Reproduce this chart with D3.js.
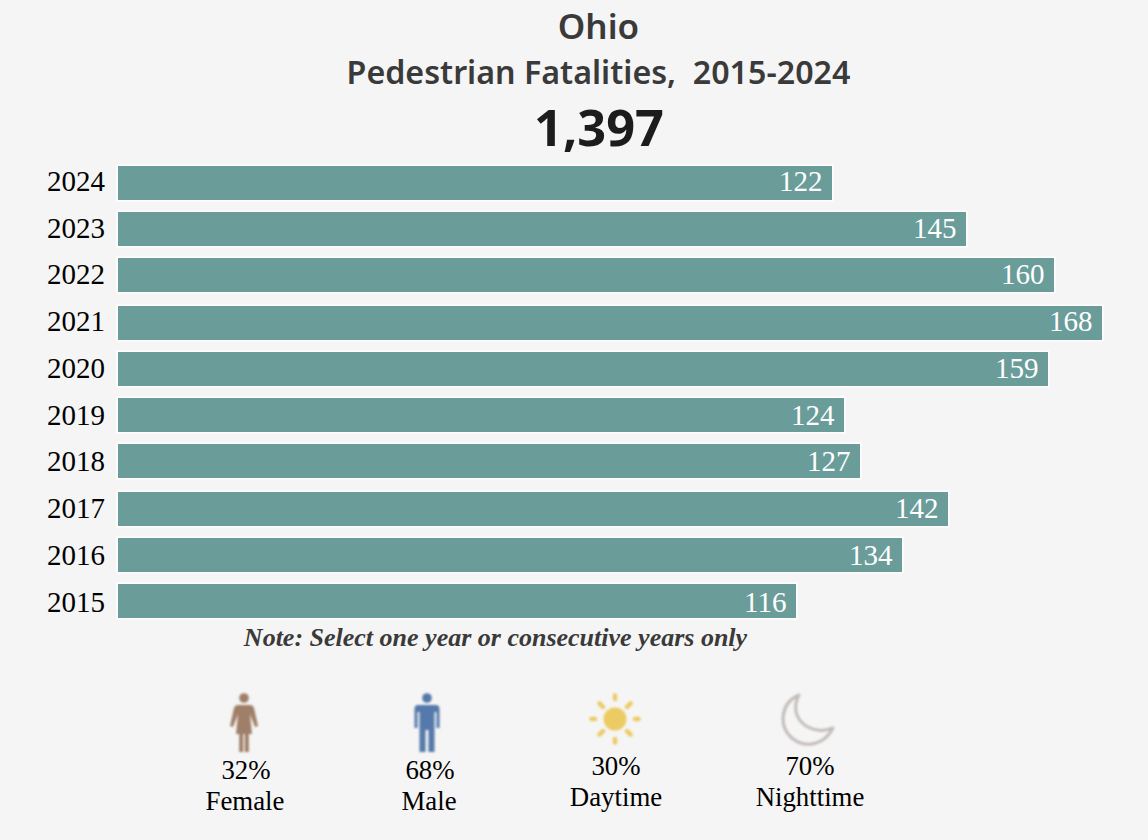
<!DOCTYPE html>
<html><head><meta charset="utf-8">
<script src="https://cdn.jsdelivr.net/npm/d3@7"></script>
<style>html,body{margin:0;padding:0;background:#f5f5f5}svg{display:block}</style>
</head><body><div id="chart"></div>
<script>
const years=[2024,2023,2022,2021,2020,2019,2018,2017,2016,2015];
const fatalities=[122,145,160,168,159,124,127,142,134,116];
const titleText="Ohio";
const subtitleText="Pedestrian Fatalities,  2015-2024";
const totalText="1,397";
const noteText="Note: Select one year or consecutive years only";
const iconPercents=["32%","68%","30%","70%"];
const iconLabels=["Female","Male","Daytime","Nighttime"];

const W=1148,H=840,serif='"Liberation Serif","Times New Roman",serif',sans='"Noto Sans","Open Sans",sans-serif';
const svg=d3.select("#chart").append("svg").attr("width",W).attr("height",H);
svg.append("rect").attr("width",W).attr("height",H).attr("fill","#f5f5f5");

const x=d3.scaleLinear().domain([0,168]).range([118,1102]);
const y=d3.scaleBand().domain(years).range([166,618]).paddingInner(0.268).paddingOuter(0);
const yLabel=d3.scalePoint().domain(years).range([191,611.7]);
const snapY=v=>Math.round(v/2)*2, snapX=v=>Math.floor(v/2)*2;
const sw=1.5;

function t(s,px,py,size,o={}){return svg.append("text").attr("x",px).attr("y",py).attr("text-anchor",o.anchor||"middle")
 .attr("font-family",o.font||serif).attr("font-size",size).attr("font-weight",o.weight||400).attr("font-style",o.style||"normal")
 .attr("fill",o.fill||"#000").style("white-space","pre").text(s);}

t(titleText,598.5,39,35,{font:sans,weight:600,fill:"#3a3a3a"});
t(subtitleText,598.5,84,32.2,{font:sans,weight:600,fill:"#3a3a3a"});
t(totalText,599,145.5,50.5,{font:sans,weight:700,fill:"#1c1c1c"});

svg.append("g").selectAll("rect").data(years).join("rect")
 .attr("x",x(0)-sw/2).attr("y",d=>snapY(y(d))-sw/2)
 .attr("width",(d,i)=>snapX(x(fatalities[i]))-x(0)+sw).attr("height",y.bandwidth()+sw)
 .attr("fill","#6a9d9a").attr("stroke","#fff").attr("stroke-width",sw);
svg.append("g").selectAll("text").data(years).join("text")
 .attr("x",(d,i)=>snapX(x(fatalities[i]))-9.5).attr("y",d=>yLabel(d)).attr("text-anchor","end")
 .attr("font-family",serif).attr("font-size",29).attr("fill","#fff").text((d,i)=>fatalities[i]);
svg.append("g").selectAll("text").data(years).join("text")
 .attr("x",105).attr("y",d=>yLabel(d)).attr("text-anchor","end")
 .attr("font-family",serif).attr("font-size",29).attr("fill","#000").text(d=>d);

t(noteText,495.5,646,26,{weight:700,style:"italic",fill:"#3a3a3a"});

svg.append("defs").append("filter").attr("id","b").append("feGaussianBlur").attr("stdDeviation",0.8);
// female
const f=svg.append("g").attr("transform","translate(244,693)").attr("filter","url(#b)").attr("fill","#a07f68");
f.append("circle").attr("cx",0).attr("cy",5).attr("r",4.8);
f.append("path").attr("d","M-6,12 L6,12 Q9,12 10,15 L14,33 L11,34 L6,21 L8,41 L-8,41 L-6,21 L-11,34 L-14,33 L-10,15 Q-9,12 -6,12Z");
f.append("rect").attr("x",-4.8).attr("y",41).attr("width",4).attr("height",18);
f.append("rect").attr("x",0.8).attr("y",41).attr("width",4).attr("height",18);
// male
const m=svg.append("g").attr("transform","translate(427,693)").attr("filter","url(#b)").attr("fill","#5479aa");
m.append("circle").attr("cx",0).attr("cy",5).attr("r",4.8);
m.append("path").attr("d","M-9,12 L9,12 Q12.5,12 12.5,16 L12.5,35 L9.5,35 L9.5,19 L7.5,19 L7.5,59 L1.5,59 L1.5,37 L-1.5,37 L-1.5,59 L-7.5,59 L-7.5,19 L-9.5,19 L-9.5,35 L-12.5,35 L-12.5,16 Q-12.5,12 -9,12Z");
// sun
const s=svg.append("g").attr("transform","translate(615,719)").attr("filter","url(#b)");
s.append("circle").attr("r",11.5).attr("fill","#eccb63");
d3.range(8).forEach(i=>{const a=i*Math.PI/4,c=Math.cos(a),n=Math.sin(a);
 s.append("line").attr("x1",c*(i%2?17:20)).attr("y1",n*(i%2?17:20)).attr("x2",c*(i%2?22:23.5)).attr("y2",n*(i%2?22:23.5))
 .attr("stroke","#eccb63").attr("stroke-width",4.5).attr("stroke-linecap","round");});
// moon
svg.append("path").attr("filter","url(#b)")
 .attr("d","M799,695 C780,703 778,727 793,739 C807,749 825,744 833,728 C815,735 799,725 796,712 C795,705 796,700 799,695Z")
 .attr("fill","none").attr("stroke","#c2bcb9").attr("stroke-width",3).attr("stroke-linejoin","round");

const ix=[245,429,616,810],py=[779,779,775,775],ly=[810,810,806,806];
iconLabels.forEach((l,i)=>{t(iconPercents[i],ix[i]+(i<2?1:0),py[i],26.8);t(l,ix[i],ly[i],26.8);});
</script></body></html>
